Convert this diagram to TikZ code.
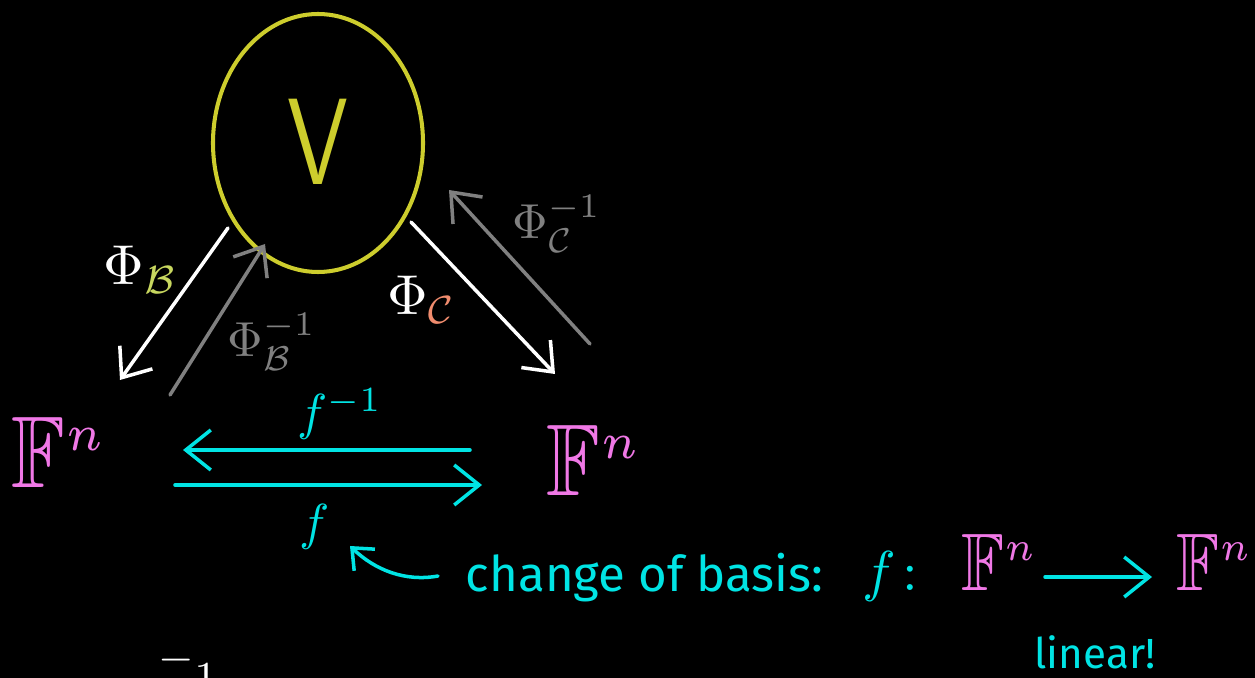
\documentclass[tikz,border=0pt]{standalone}
\usepackage{amsmath}
\usepackage{amssymb}
\usepackage{fontspec}
\setsansfont{Fira Sans}
\newfontfamily\thinsans{Latin Modern Sans}
\usetikzlibrary{arrows.meta}

\definecolor{vyellow}{RGB}{205,205,45}
\definecolor{fpink}{RGB}{240,120,230}
\definecolor{fcyan}{RGB}{0,228,228}
\definecolor{bgreen}{RGB}{200,215,95}
\definecolor{csalmon}{RGB}{240,140,110}
\definecolor{invgray}{RGB}{128,128,128}

\begin{document}
\begin{tikzpicture}[x=0.02cm, y=-0.02cm, >={Straight Barb[length=5mm,width=8mm]},
    map/.style={line width=2pt, line cap=round, ->},
    lbl/.style={inner sep=0pt, scale=3.2},
    invlbl/.style={inner sep=0pt, scale=2.8, text=invgray},
    fn/.style={inner sep=0pt, text=fpink, xscale=5, yscale=5.8}]

        % 背景
        \fill[black] (0,0) rectangle (1255,678);
        \useasboundingbox (0,0) rectangle (1255,678);

        % 向量空间 V
        \draw[vyellow, line width=2.3pt] (318,143) ellipse [x radius=105, y radius=129];
        \node[text=vyellow, xscale=5.2, yscale=7] (V) at (318,142) {\thinsans V};

        % 两个 F^n
        \node[fn] (FL) at (60,452) {$\mathbb{F}^{\scriptscriptstyle n}$};
        \node[fn] (FR) at (595,460) {$\mathbb{F}^{\scriptscriptstyle n}$};

        % 箭头端点
        \coordinate (B0) at (228,228);
        \coordinate (B1) at (120,380);
        \coordinate (Bi0) at (170,395);
        \coordinate (Bi1) at (265,244);
        \coordinate (C0) at (411,222);
        \coordinate (C1) at (555,374);
        \coordinate (Ci0) at (590,344);
        \coordinate (Ci1) at (449,190);
        \coordinate (F0) at (470,450);
        \coordinate (F1) at (183,450);
        \coordinate (G0) at (175,485);
        \coordinate (G1) at (482,485);

        % 坐标映射
        \draw[map, white] (B0) -- (B1);
        \draw[map, invgray] (Bi0) -- (Bi1);
        \draw[map, white] (C0) -- (C1);
        \draw[map, invgray] (Ci0) -- (Ci1);

        \node[lbl, text=white] (phiB) at (141,270) {$\Phi_{\color{bgreen}\mathcal{B}}$};
        \node[invlbl] (phiBi) at (272,342) {$\Phi_{\mathcal{B}}^{-1}$};
        \node[lbl, text=white] (phiC) at (422,300) {$\Phi_{\color{csalmon}\mathcal{C}}$};
        \node[invlbl] (phiCi) at (557,224) {$\Phi_{\mathcal{C}}^{-1}$};

        % 基变换 f 与 f^{-1}
        \draw[map, fcyan] (F0) -- (F1);
        \draw[map, fcyan] (G0) -- (G1);
        \node[lbl, scale=0.9, text=fcyan] (finv) at (340,414) {$f^{-1}$};
        \node[lbl, scale=0.9, text=fcyan] (fmap) at (315,527) {$f$};

        % 说明
        \node[text=fcyan, scale=2.8, inner sep=0pt, anchor=west] (cob) at (465,578) {\sffamily change of basis:};
        \coordinate (cur0) at (438,576);
        \coordinate (cur1) at (350,546);
        \draw[map, fcyan, >={Straight Barb[length=3.5mm,width=6mm]}]
        (cur0) .. controls (405,582) and (375,570) .. (cur1);

        \node[lbl, text=fcyan] (fcol) at (900,576) {$f\colon$};
        \node[fn, xscale=0.8, yscale=0.8] (FA) at (1000,562) {$\mathbb{F}^{\scriptscriptstyle n}$};
        \node[fn, xscale=0.8, yscale=0.8] (FB) at (1215,562) {$\mathbb{F}^{\scriptscriptstyle n}$};
        \coordinate (A0) at (1045,577);
        \coordinate (A1) at (1152,577);
        \draw[map, fcyan] (A0) -- (A1);
        \node[text=fcyan, scale=2.4, inner sep=0pt] (lin) at (1095,652) {\sffamily linear!};

        % 下方残留
        \node[text=white, scale=2.6, inner sep=0pt, anchor=base west] (cut) at (158,694) {$\raisebox{0.5em}{$-$}1$};

    \end{tikzpicture}
\end{document}
